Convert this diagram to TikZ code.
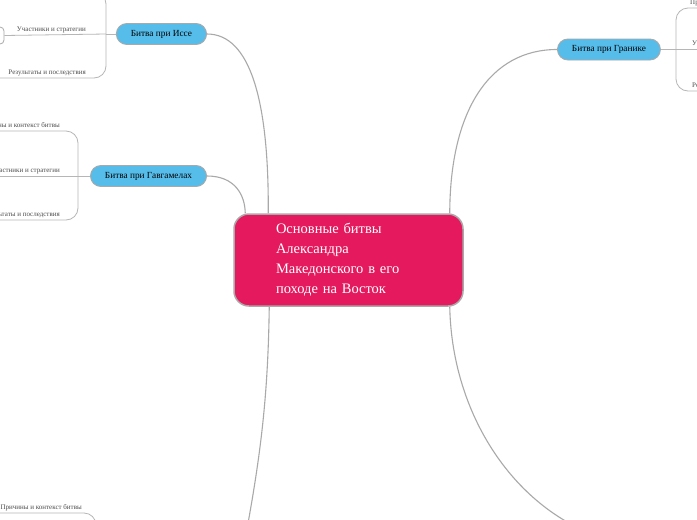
\documentclass[tikz,border=0pt]{standalone}
\usepackage{fontspec}
\setmainfont{Liberation Serif}
\usepackage{xcolor}
\definecolor{rootred}{HTML}{E5195E}
\definecolor{battleblue}{HTML}{56BDEB}
\definecolor{linegray}{HTML}{A9A9A9}
\tikzset{root/.style={draw=linegray,line width=1.5pt,fill=rootred,text=white,rounded corners=15pt,
  text width=145pt,inner xsep=42pt,minimum height=92pt,align=left,font=\fontsize{14.5}{20}\selectfont},
 battle/.style={draw=linegray,line width=0.9pt,fill=battleblue,rounded corners=10.5pt,
  minimum height=21pt,inner xsep=14.5pt,inner ysep=0pt,font=\fontsize{9.3}{11}\selectfont},
 topic/.style={inner sep=0pt,text=black!70,font=\fontsize{7}{8}\selectfont},
 gcbox/.style={draw=linegray,line width=0.8pt,fill=white,rounded corners=4pt,minimum width=34pt,minimum height=17pt},
 link/.style={draw=linegray,line width=1.1pt},
 sublink/.style={draw=linegray!85,line width=0.8pt,rounded corners=12pt},
 }

\begin{document}
\begin{tikzpicture}[x=1pt,y=-1pt]
    \clip (0,0) rectangle (697,520);
    \fill[white] (0,0) rectangle (697,520);
    \node[root] (root) at (348.5,260) {Основные битвы\\Александра\\Македонского в его\\походе на Восток};
    \node[battle,anchor=east] (issus) at (207,34) {Битва при Иссе};
    \node[battle,anchor=east] (gaug) at (207,176) {Битва при Гавгамелах};
    \node[battle,anchor=west] (granic) at (557,49.5) {Битва при Гранике};
    \coordinate (bleft) at (244,545);
    \coordinate (bright) at (610,540);
    \draw[link] (issus.east) .. controls (250,34) and (269,100) .. ([xshift=35pt]root.north west);
    \draw[link] (gaug.east) .. controls (235,176) and (245,195) .. ([xshift=12pt]root.north west);
    \draw[link] (granic.west) .. controls (490,49.5) and (450,110) .. ([xshift=-14pt]root.north east);
    \draw[link] ([xshift=36pt]root.south west) .. controls (268,400) and (260,460) .. (bleft);
    \draw[link] ([xshift=-14pt]root.south east) .. controls (452,420) and (520,515) .. (bright);

    \node[gcbox] (issgc) at (-13,35.5) {};
    \coordinate (issj) at (106,34);
    \coordinate (iss1) at (-10,-8);
    \coordinate (iss3) at (-10,78);
    \draw[sublink] (issus.west) -- (issj);
    \draw[sublink] (issj) -- (106,-8) -- (iss1);
    \draw[sublink] (issj) -- (issgc.east);
    \draw[sublink] (issj) -- (106,78) -- (iss3);
    \node[topic,anchor=base east] (iss2t) at (86,31.5) {Участники и стратегии};
    \node[topic,anchor=base east] (iss3t) at (86,74) {Результаты и последствия};

    \coordinate (gaugj) at (78,176);
    \coordinate (gaug1) at (-10,131);
    \coordinate (gaug2) at (-10,176);
    \coordinate (gaug3) at (-10,220);
    \draw[sublink] (gaug.west) -- (gaugj);
    \draw[sublink] (gaugj) -- (78,131) -- (gaug1);
    \draw[sublink] (gaugj) -- (gaug2);
    \draw[sublink] (gaugj) -- (78,220) -- (gaug3);
    \node[topic,anchor=base east] (gaug1t) at (60,127.5) {Причины и контекст битвы};
    \node[topic,anchor=base east] (gaug2t) at (60,172.5) {Участники и стратегии};
    \node[topic,anchor=base east] (gaug3t) at (60,216) {Результаты и последствия};

    \coordinate (granj) at (676,49.5);
    \coordinate (gran1) at (710,8);
    \coordinate (gran2) at (710,49.5);
    \coordinate (gran3) at (710,91);
    \draw[sublink] (granic.east) -- (granj);
    \draw[sublink] (granj) -- (676,8) -- (gran1);
    \draw[sublink] (granj) -- (gran2);
    \draw[sublink] (granj) -- (676,91) -- (gran3);
    \node[topic,anchor=base west] (gran1t) at (690,4.5) {Причины и контекст битвы};
    \node[topic,anchor=base west] (gran2t) at (692,45.5) {Участники и стратегии};
    \node[topic,anchor=base west] (gran3t) at (692,87.5) {Результаты и последствия};

    \coordinate (blj) at (96,560);
    \coordinate (bl1) at (-10,513);
    \draw[sublink] (blj) -- (96,513) -- (bl1);
    \node[topic,anchor=base east] (bl1t) at (82,509) {Причины и контекст битвы};
\end{tikzpicture}
\end{document}
